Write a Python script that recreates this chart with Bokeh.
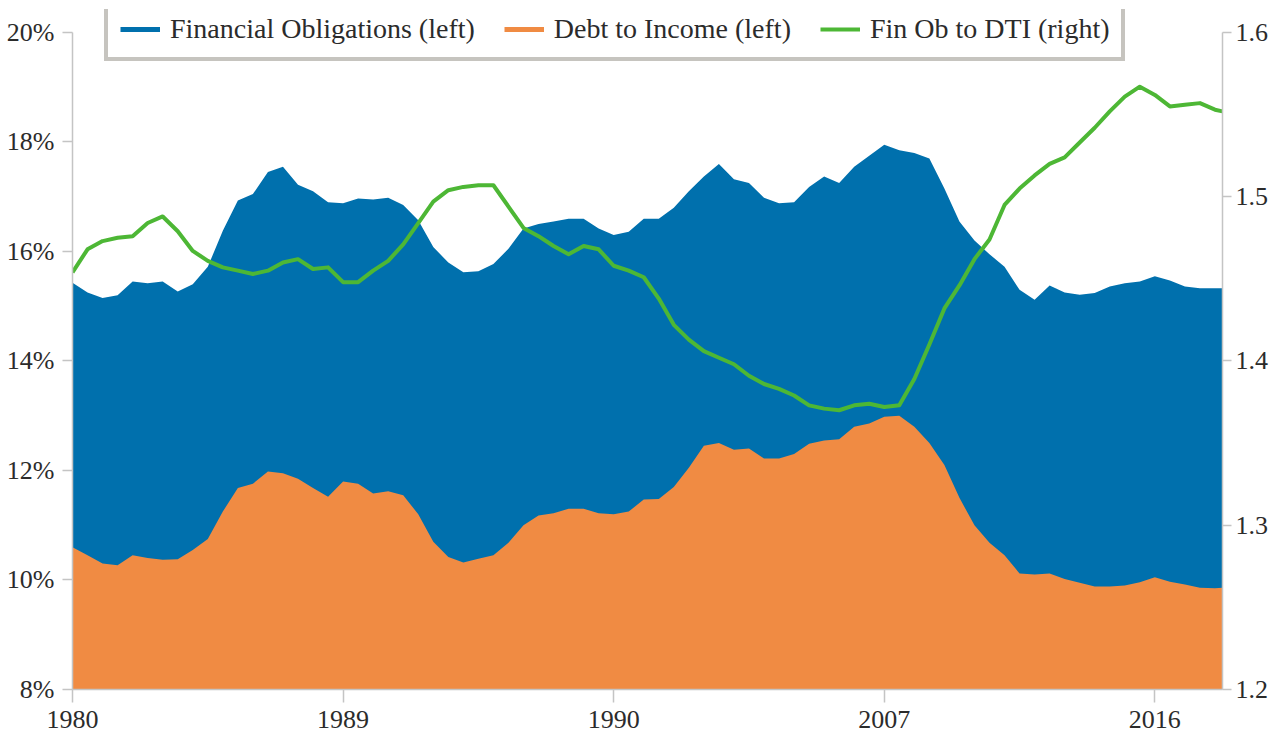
from bokeh.plotting import figure
from bokeh.models import (Range1d, LinearAxis, FixedTicker, PrintfTickFormatter,
                          Legend, LegendItem, ColumnDataSource)
from bokeh.embed import file_html
from bokeh.resources import INLINE

# ---- data (half-year steps) ----
years = [1980.0, 1980.5, 1981.0, 1981.5, 1982.0, 1982.5, 1983.0, 1983.5, 1984.0, 1984.5,
         1985.0, 1985.5, 1986.0, 1986.5, 1987.0, 1987.5, 1988.0, 1988.5, 1989.0, 1989.5,
         1990.0, 1990.5, 1991.0, 1991.5, 1992.0, 1992.5, 1993.0, 1993.5, 1994.0, 1994.5,
         1995.0, 1995.5, 1996.0, 1996.5, 1997.0, 1997.5, 1998.0, 1998.5, 1999.0, 1999.5,
         2000.0, 2000.5, 2001.0, 2001.5, 2002.0, 2002.5, 2003.0, 2003.5, 2004.0, 2004.5,
         2005.0, 2005.5, 2006.0, 2006.5, 2007.0, 2007.5, 2008.0, 2008.5, 2009.0, 2009.5,
         2010.0, 2010.5, 2011.0, 2011.5, 2012.0, 2012.5, 2013.0, 2013.5, 2014.0, 2014.5,
         2015.0, 2015.5, 2016.0, 2016.5, 2017.0, 2017.5, 2018.0, 2018.25]

financial_obligations = [
    15.43, 15.25, 15.15, 15.20, 15.45, 15.42, 15.45, 15.27, 15.40, 15.72,
    16.38, 16.93, 17.05, 17.45, 17.55, 17.22, 17.10, 16.90, 16.88, 16.97,
    16.95, 16.98, 16.85, 16.57, 16.08, 15.80, 15.62, 15.64, 15.77, 16.05,
    16.42, 16.50, 16.55, 16.60, 16.60, 16.42, 16.30, 16.36, 16.60, 16.60,
    16.80, 17.10, 17.37, 17.60, 17.32, 17.25, 16.98, 16.88, 16.90, 17.18,
    17.37, 17.25, 17.55, 17.75, 17.95, 17.85, 17.80, 17.70, 17.15, 16.55,
    16.20, 15.95, 15.72, 15.30, 15.12, 15.38, 15.25, 15.21, 15.24, 15.36,
    15.42, 15.45, 15.55, 15.47, 15.36, 15.33, 15.33, 15.33]

debt_to_income = [
    10.60, 10.45, 10.30, 10.27, 10.45, 10.40, 10.37, 10.38, 10.55, 10.75,
    11.25, 11.68, 11.76, 11.98, 11.95, 11.85, 11.68, 11.52, 11.80, 11.76,
    11.58, 11.62, 11.55, 11.20, 10.70, 10.42, 10.32, 10.39, 10.45, 10.68,
    11.00, 11.18, 11.22, 11.30, 11.30, 11.22, 11.20, 11.25, 11.47, 11.48,
    11.70, 12.05, 12.45, 12.50, 12.38, 12.40, 12.22, 12.22, 12.30, 12.49,
    12.55, 12.57, 12.80, 12.86, 12.98, 13.00, 12.80, 12.50, 12.10, 11.50,
    11.00, 10.68, 10.45, 10.12, 10.10, 10.12, 10.02, 9.95, 9.88, 9.88,
    9.90, 9.96, 10.05, 9.97, 9.92, 9.86, 9.85, 9.86]

fin_ob_to_dti = [
    1.454, 1.468, 1.473, 1.475, 1.476, 1.484, 1.488, 1.479, 1.467, 1.461,
    1.457, 1.455, 1.453, 1.455, 1.460, 1.462, 1.456, 1.457, 1.448, 1.448,
    1.455, 1.461, 1.471, 1.484, 1.497, 1.504, 1.506, 1.507, 1.507, 1.494,
    1.481, 1.476, 1.470, 1.465, 1.470, 1.468, 1.458, 1.455, 1.451, 1.438,
    1.422, 1.413, 1.406, 1.402, 1.398, 1.391, 1.386, 1.383, 1.379, 1.373,
    1.371, 1.370, 1.373, 1.374, 1.372, 1.373, 1.389, 1.410, 1.432, 1.446,
    1.462, 1.474, 1.495, 1.505, 1.513, 1.520, 1.524, 1.533, 1.542, 1.552,
    1.561, 1.567, 1.562, 1.555, 1.556, 1.557, 1.553, 1.552]

x_tick_years = [1980, 1989, 1998, 2007, 2016]
x_tick_labels = ["1980", "1989", "1990", "2007", "2016"]
left_ticks = [8, 10, 12, 14, 16, 18, 20]
right_ticks = [1.2, 1.3, 1.4, 1.5, 1.6]
series_labels = ["Financial Obligations (left)", "Debt to Income (left)", "Fin Ob to DTI (right)"]

# ---- styling ----
BLUE = "#0070ad"
ORANGE = "#f08b43"
GREEN = "#4db735"
AXIS_GRAY = "#c4c4c4"
TEXT = "#2b2b2b"
FONT = "Liberation Serif"

y_floor = left_ticks[0]
src = ColumnDataSource(dict(year=years, fo=financial_obligations,
                            dti=debt_to_income, ratio=fin_ob_to_dti,
                            base=[y_floor] * len(years)))

p = figure(width=1272, height=740, output_backend="svg", toolbar_location=None,
           x_range=Range1d(1980, 2018.25), y_range=Range1d(8, 20.42),
           min_border_left=72, min_border_right=50, min_border_top=9,
           min_border_bottom=51, outline_line_color=None,
           background_fill_color="white", border_fill_color="white")
p.xgrid.visible = False
p.ygrid.visible = False
p.extra_y_ranges = {"ratio": Range1d(1.2, 1.614)}

p.varea(x="year", y1="base", y2="fo", source=src, fill_color=BLUE, fill_alpha=1)
p.varea(x="year", y1="base", y2="dti", source=src, fill_color=ORANGE, fill_alpha=1)
fo_line = p.line("year", "fo", source=src, line_color=BLUE, line_width=5, visible=False)
dti_line = p.line("year", "dti", source=src, line_color=ORANGE, line_width=5, visible=False)
ratio_line = p.line("year", "ratio", source=src, line_color=GREEN, line_width=4,
                    y_range_name="ratio", line_join="round")

def style_axis(ax):
    ax.axis_line_color = AXIS_GRAY
    ax.axis_line_width = 1.5
    ax.major_tick_line_color = AXIS_GRAY
    ax.major_tick_line_width = 1.5
    ax.minor_tick_line_color = None
    ax.major_tick_in = 0
    ax.major_label_text_font = FONT
    ax.major_label_text_font_size = "26px"
    ax.major_label_text_color = TEXT

# bottom axis
xa = p.xaxis[0]
style_axis(xa)
xa.ticker = FixedTicker(ticks=x_tick_years)
xa.major_label_overrides = dict(zip(x_tick_years, x_tick_labels))
xa.major_tick_out = 13
xa.major_label_standoff = 8

# left axis
ya = p.yaxis[0]
style_axis(ya)
ya.ticker = FixedTicker(ticks=left_ticks)
ya.formatter = PrintfTickFormatter(format="%d%%")
ya.bounds = (8, 20)
ya.major_tick_out = 10
ya.major_label_standoff = 8

# right axis
ra = LinearAxis(y_range_name="ratio")
style_axis(ra)
ra.ticker = FixedTicker(ticks=right_ticks)
ra.formatter = PrintfTickFormatter(format="%.1f")
ra.bounds = (1.2, 1.6)
ra.major_tick_out = 9
ra.major_label_standoff = 4
p.add_layout(ra, "right")

legend = Legend(items=[LegendItem(label=series_labels[0], renderers=[fo_line]),
                       LegendItem(label=series_labels[1], renderers=[dti_line]),
                       LegendItem(label=series_labels[2], renderers=[ratio_line])],
                orientation="horizontal", location=(32, 628),
                label_text_font=FONT, label_text_font_size="28px",
                label_text_color=TEXT, glyph_width=40, glyph_height=20,
                label_standoff=10, spacing=29, padding=12, margin=0,
                border_line_color="#8e8a80", border_line_width=4,
                background_fill_color="white", background_fill_alpha=1)
p.add_layout(legend)

open("out.html", "w").write(file_html(p, INLINE))
